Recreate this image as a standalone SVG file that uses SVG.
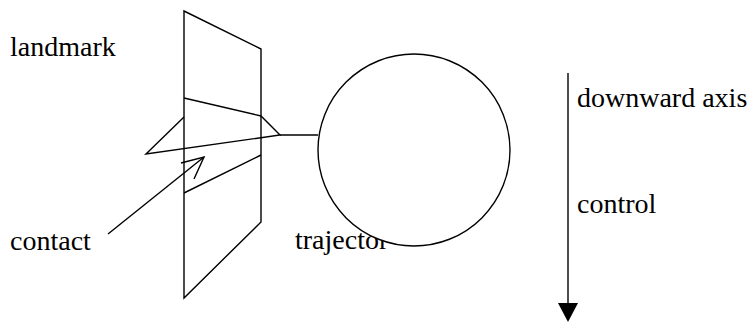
<svg xmlns="http://www.w3.org/2000/svg" width="751" height="322" viewBox="0 0 751 322">
<style>
.ln{fill:none;stroke:#000;stroke-width:1.4;stroke-linejoin:miter}
.lbl{font-family:'Liberation Serif','Times New Roman',serif;font-size:28px;fill:#000}
</style>
<rect width="751" height="322" fill="#fff"/>
<g id="labels">
<text class="lbl" x="10" y="56">landmark</text>
<text class="lbl" x="10" y="250">contact</text>
<text class="lbl" x="295" y="249">trajector</text>
<text class="lbl" x="577" y="107">downward axis</text>
<text class="lbl" x="577" y="213">control</text>
</g>
<g id="landmark">
<polygon class="ln" points="184,11 261,49 261,222 184,298"/>
<polyline class="ln" points="184,98 261,116 280,135 146,154 184,117"/>
<line class="ln" x1="184" y1="193" x2="261" y2="155"/>
</g>
<g id="connectors">
<line class="ln" x1="280" y1="135" x2="318" y2="135"/>
<line class="ln" x1="108" y1="234" x2="204" y2="157"/>
<polyline class="ln" points="181,163 204,157 194,179"/>
<line class="ln" x1="568" y1="73" x2="568" y2="304"/>
<polygon points="558,303 578,303 568,322" fill="#000"/>
</g>
<g id="trajector">
<circle cx="414" cy="150" r="96" fill="#fff" stroke="#000" stroke-width="1.4"/>
</g>
</svg>
